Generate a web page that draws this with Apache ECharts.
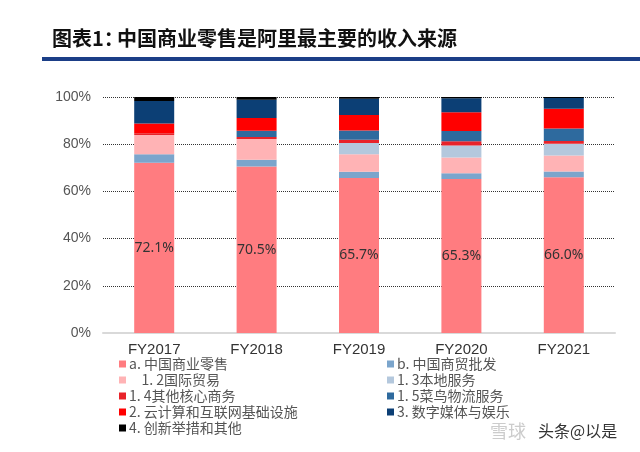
<!DOCTYPE html>
<html>
<head>
<meta charset="utf-8">
<script src="https://cdn.jsdelivr.net/npm/echarts@6/dist/echarts.min.js"></script>
<style>
  html, body { margin: 0; padding: 0; background: #fff; }
  #chart { width: 640px; height: 452px; }
</style>
</head>
<body>
<div id="chart"></div>
<script>
// 财年
const years = ['FY2017', 'FY2018', 'FY2019', 'FY2020', 'FY2021']
const yTicks = [0, 20, 40, 60, 80, 100]

// 各业务收入占比 (%)
const retailCN = [72.1, 70.5, 65.7, 65.3, 66.0]
const wholesaleCN = [3.6, 2.9, 2.6, 2.4, 2.4]
const intlTrade = [8.2, 8.8, 7.4, 6.7, 6.8]
const localServices = [0, 0, 4.8, 5.0, 5.0]
const otherCore = [0.7, 0.8, 1.4, 1.8, 1.2]
const cainiao = [0, 2.7, 3.9, 4.4, 5.2]
const cloud = [4.2, 5.4, 6.6, 7.9, 8.4]
const digitalMedia = [9.5, 7.7, 6.9, 6.0, 4.6]
const innovation = [1.7, 1.2, 0.7, 0.5, 0.4]

const series = [
  { name: 'a. 中国商业零售', data: retailCN, color: '#FF7C80', label: true },
  { name: 'b. 中国商贸批发', data: wholesaleCN, color: '#7BA5CC' },
  { name: '    1. 2国际贸易', data: intlTrade, color: '#FFB3B5' },
  { name: '1. 3本地服务', data: localServices, color: '#B4C8DD' },
  { name: '1. 4其他核心商务', data: otherCore, color: '#E8232A' },
  { name: '1. 5菜鸟物流服务', data: cainiao, color: '#2E6A9E' },
  { name: '2. 云计算和互联网基础设施', data: cloud, color: '#FF0000' },
  { name: '3. 数字媒体与娱乐', data: digitalMedia, color: '#0C3F75' },
  { name: '4. 创新举措和其他', data: innovation, color: '#000000' },
]

const chart = echarts.init(document.getElementById('chart'))

const legendText = { fontFamily: 'Noto Sans CJK SC', fontSize: 14, color: '#555', lineHeight: 14, padding: [0, 0, 0, -2] }

chart.setOption({
  animation: false,
  textStyle: { fontFamily: 'Liberation Sans' },
  grid: { left: 103, right: 25, top: 97, bottom: 119 },
  legend: [
    {
      orient: 'vertical', left: 114, top: 352, itemWidth: 7, itemHeight: 7, itemGap: 2,
      icon: 'rect', textStyle: legendText,
      data: [series[0].name, series[2].name, series[4].name, series[6].name, series[8].name],
    },
    {
      orient: 'vertical', left: 382, top: 352, itemWidth: 7, itemHeight: 7, itemGap: 2,
      icon: 'rect', textStyle: legendText,
      data: [series[1].name, series[3].name, series[5].name, series[7].name],
    },
  ],
  xAxis: {
    type: 'category',
    data: years,
    axisLine: { lineStyle: { color: '#d9d9d9', width: 2 } },
    axisTick: { show: false },
    axisLabel: { color: '#333', fontSize: 15, margin: 9 },
  },
  yAxis: {
    type: 'value',
    min: 0, max: 100, interval: 20,
    axisLine: { show: false },
    axisTick: { show: false },
    axisLabel: {
      color: '#555', fontSize: 14, margin: 12,
      formatter: v => (yTicks.includes(v) ? v + '%' : ''),
    },
    splitLine: { lineStyle: { color: '#333', type: [1, 1], width: 1 } },
  },
  series: series.map(s => ({
    name: s.name,
    type: 'bar',
    stack: 'total',
    barWidth: 40,
    data: s.data,
    itemStyle: { color: s.color },
    label: s.label ? {
      show: true, position: 'inside', color: '#333', fontSize: 14,
      fontFamily: 'Noto Sans', formatter: p => p.value.toFixed(1) + '%',
    } : { show: false },
  })),
  graphic: [
    { type: 'text', left: 52, top: 28, style: { text: '图表1：', font: 'bold 20px "Noto Sans CJK SC"', fill: '#111' } },
    { type: 'text', left: 117, top: 28, style: { text: '中国商业零售是阿里最主要的收入来源', font: 'bold 20px "Noto Sans CJK SC"', fill: '#111' } },
    { type: 'rect', shape: { x: 42, y: 57, width: 598, height: 4 }, style: { fill: '#1B3E87' } },
    { type: 'text', left: 490, top: 422, style: { text: '雪球', font: '18px "Noto Sans CJK SC"', fill: '#ccc' } },
    { type: 'text', left: 538, top: 423, style: { text: '头条@以是', font: '16px "Noto Sans CJK SC"', fill: '#333' } },
  ],
})
</script>
</body>
</html>
